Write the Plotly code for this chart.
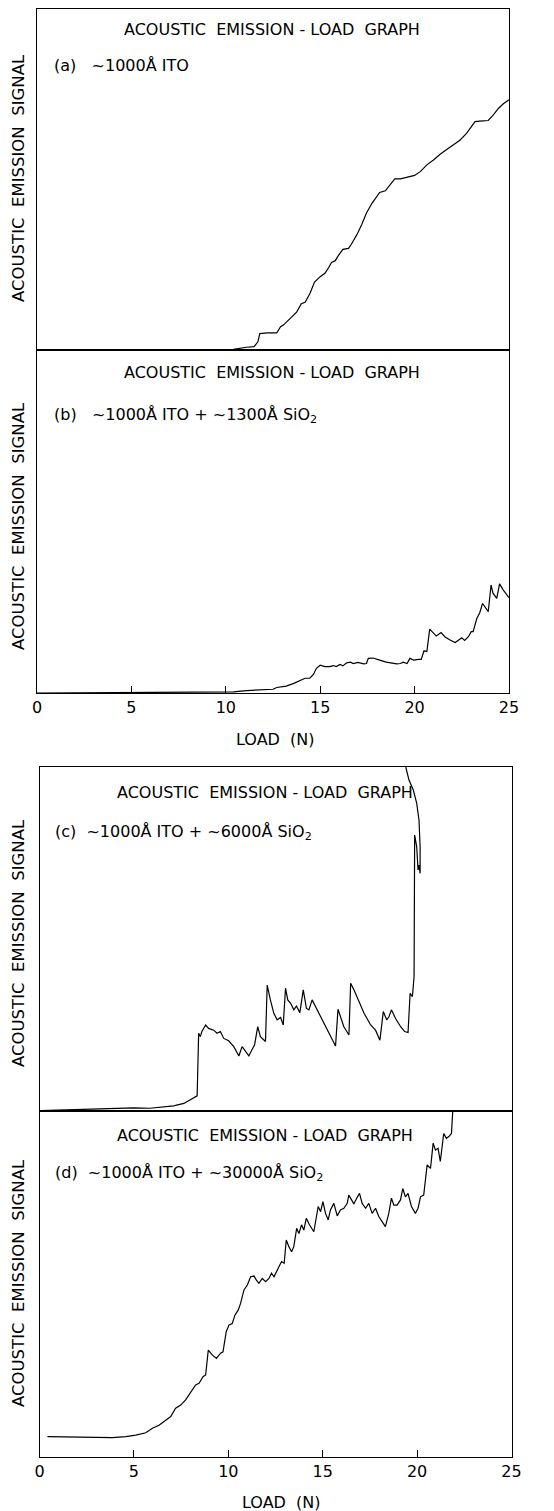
import plotly.graph_objects as go

# page is 554x1511; the html body has an 8px margin, so the figure itself is 546x1503
PAGE_OFF = 8
W, H = 554 - PAGE_OFF, 1511 - PAGE_OFF

# ---------------- data (load in N, signal in arbitrary units 0-100 of panel height) ----------------
load_a = [0, 10.4, 11.1, 11.5, 11.7, 11.8, 12.2, 12.7, 12.9, 13.05, 13.4, 13.75, 14.0, 14.2, 14.45, 14.7,
          15.0, 15.25, 15.45, 15.6, 15.8, 15.95, 16.2, 16.5, 16.65, 16.95, 17.2, 17.45, 17.75, 18.0, 18.15,
          18.45, 18.7, 18.95, 19.25, 19.6, 20.0, 20.3, 20.65, 21.0, 21.35, 21.7, 22.05, 22.4, 22.75, 23.0,
          23.2, 23.45, 23.9, 24.15, 24.45, 24.7, 25.0]
sig_a = [0, 0.2, 0.8, 1.0, 2.4, 4.8, 5.0, 5.0, 6.8, 7.3, 9.2, 11.1, 13.6, 14.0, 16.5, 19.9,
         21.5, 22.5, 24.2, 25.7, 26.2, 27.6, 29.5, 29.8, 31.0, 33.9, 36.8, 40.2, 43.1, 45.2, 46.2,
         46.7, 48.4, 50.2, 50.2, 50.7, 51.2, 52.3, 54.3, 55.7, 57.4, 58.8, 60.1, 61.5, 63.5, 65.6,
         67.0, 67.1, 67.3, 68.8, 70.9, 72.2, 73.4]

load_b = [0, 8.8, 10.05, 10.4, 11.1, 11.8, 12.5, 12.7, 13.2, 13.6, 13.9, 14.2, 14.45, 14.65, 14.8, 15.0,
          15.25, 15.5, 15.7, 15.85, 16.05, 16.2, 16.4, 16.6, 16.75, 17.0, 17.3, 17.45, 17.55, 17.8, 18.15,
          18.5, 19.05, 19.25, 19.4, 19.6, 19.75, 19.95, 20.2, 20.35, 20.5, 20.65, 20.8, 21.0, 21.15, 21.4,
          21.6, 21.85, 22.15, 22.3, 22.5, 22.65, 22.85, 23.0, 23.1, 23.3, 23.45, 23.6, 23.75, 23.9, 24.05,
          24.15, 24.35, 24.5, 24.7, 24.9, 25.0]
sig_b = [0, 0.1, 0.1, 0.3, 0.7, 0.9, 1.1, 1.6, 2.0, 2.8, 3.6, 4.3, 4.3, 5.5, 7.2, 8.1,
         7.7, 7.7, 8.0, 7.7, 8.3, 7.9, 8.8, 9.0, 8.6, 8.9, 8.5, 8.6, 10.1, 10.2, 9.6,
         9.0, 8.5, 8.6, 9.0, 8.6, 10.1, 9.6, 9.8, 9.8, 12.3, 12.1, 18.6, 17.4, 16.6, 17.6,
         16.4, 15.5, 14.7, 15.3, 16.1, 15.3, 16.4, 17.9, 17.9, 21.8, 23.4, 26.1, 25.0, 23.7, 31.5,
         29.1, 27.6, 31.8, 30.0, 28.6, 27.8]

load_c = [0.05, 1.45, 3.2, 5.0, 5.85, 6.4, 7.1, 7.65, 8.0, 8.35, 8.43, 8.52, 8.6, 8.8, 8.96, 9.23,
          9.4, 9.58, 9.76, 10.02, 10.29, 10.56, 10.73, 10.91, 11.09, 11.26, 11.39, 11.56, 11.7, 11.97,
          12.06, 12.23, 12.41, 12.59, 12.77, 12.91, 13.03, 13.15, 13.3, 13.47, 13.61, 13.79, 13.97, 14.14,
          14.27, 14.44, 14.71, 14.98, 15.42, 15.68, 15.81, 16.12, 16.39, 16.48, 16.66, 16.92, 17.19, 17.54,
          17.8, 18.03, 18.21, 18.39, 18.51, 18.64, 18.86, 19.13, 19.34, 19.52, 19.63, 19.75, 19.84, 19.87,
          19.98, 20.05, 20.1, 20.16, 20.16, 20.1, 19.98, 19.8, 19.57, 19.4]
sig_c = [0.1, 0.3, 0.7, 0.9, 0.8, 1.1, 1.5, 2.2, 3.2, 4.4, 22.6, 21.6, 23.1, 25.0, 24.0, 23.5,
         22.6, 23.1, 21.1, 20.4, 18.7, 16.0, 18.7, 17.2, 16.0, 17.9, 19.2, 24.5, 21.6, 20.2,
         36.6, 32.3, 28.4, 26.5, 27.2, 25.0, 35.7, 32.3, 31.3, 29.4, 30.5, 28.6, 35.2, 29.8,
         29.4, 32.3, 29.4, 26.5, 21.6, 18.9, 29.6, 24.5, 22.1, 37.1, 35.2, 31.8, 28.4, 25.0,
         23.5, 20.6, 28.9, 26.5, 27.4, 29.4, 26.9, 24.5, 23.1, 22.8, 34.2, 33.2, 39.1, 80.2,
         76.8, 70.1, 71.5, 69.1, 76.8, 84.6, 89.4, 93.3, 96.2, 100]

load_d = [0.42, 1.39, 2.45, 3.86, 4.57, 5.10, 5.63, 5.98, 6.33, 6.68, 6.95, 7.21, 7.48, 7.74, 8.01, 8.27,
          8.45, 8.66, 8.80, 8.94, 9.15, 9.37, 9.59, 9.72, 9.89, 10.04, 10.21, 10.35, 10.53, 10.65, 10.83,
          11.01, 11.18, 11.36, 11.48, 11.62, 11.80, 11.98, 12.15, 12.29, 12.42, 12.59, 12.72, 12.82, 12.96,
          13.07, 13.21, 13.35, 13.47, 13.62, 13.74, 13.88, 14.00, 14.13, 14.30, 14.53, 14.76, 14.89, 15.01,
          15.15, 15.29, 15.41, 15.59, 15.77, 15.94, 16.12, 16.30, 16.38, 16.53, 16.65, 16.77, 16.95, 17.09,
          17.27, 17.44, 17.62, 17.80, 17.97, 18.32, 18.50, 18.64, 18.77, 18.94, 19.12, 19.24, 19.38, 19.52,
          19.70, 19.91, 20.05, 20.18, 20.35, 20.53, 20.71, 20.85, 20.97, 21.11, 21.23, 21.41, 21.55, 21.68,
          21.82, 21.89]
sig_d = [5.9, 5.8, 5.6, 5.6, 5.9, 6.3, 7.0, 8.3, 9.2, 10.7, 11.7, 14.1, 15.0, 16.5, 18.9, 20.8,
         21.3, 23.2, 23.7, 30.9, 29.5, 28.5, 30.0, 30.4, 36.2, 38.2, 38.6, 41.0, 42.5, 44.4, 48.3,
         49.7, 52.1, 52.3, 51.2, 50.2, 51.6, 50.7, 51.6, 53.1, 52.1, 54.0, 55.0, 56.5, 56.0,
         62.7, 60.8, 59.3, 60.8, 66.1, 64.6, 67.1, 65.6, 69.0, 67.1, 65.1, 72.4, 70.9, 73.8,
         70.4, 68.5, 71.4, 73.3, 69.7, 71.4, 71.9, 73.3, 75.7, 74.3, 73.1, 74.5, 76.2, 73.3,
         71.9, 73.3, 70.4, 71.9, 69.5, 66.6, 70.4, 74.8, 72.8, 72.8, 74.3, 77.6, 75.2, 76.2,
         72.4, 70.4, 71.9, 75.2, 75.7, 84.4, 83.4, 90.7, 88.7, 89.2, 85.4, 93.5, 92.1, 92.6,
         93.5, 100]

x_ticks = [0, 5, 10, 15, 20, 25]
title_text = "ACOUSTIC  EMISSION - LOAD  GRAPH"
ytitle_text = "ACOUSTIC  EMISSION  SIGNAL"
xtitle_text = "LOAD  (N)"
labels = ["(a)   ~1000Å ITO",
          "(b)   ~1000Å ITO + ~1300Å SiO<sub>2</sub>",
          "(c)  ~1000Å ITO + ~6000Å SiO<sub>2</sub>",
          "(d)  ~1000Å ITO + ~30000Å SiO<sub>2</sub>"]

# ---------------- layout helpers (page pixel -> paper fraction) ----------------
def px(xp):
    return (xp - PAGE_OFF) / W

def py(yp):
    return 1 - (yp - PAGE_OFF) / H

FONT = "DejaVu Sans"
panels = [
    # (x-left, x-right, y-top, y-bottom) in page pixels
    (37, 509, 9, 350),
    (37, 509, 350, 693),
    (39.5, 511.5, 767, 1111),
    (39.5, 511.5, 1111, 1457),
]
series = [(load_a, sig_a), (load_b, sig_b), (load_c, sig_c), (load_d, sig_d)]

fig = go.Figure()
layout = dict(width=W, height=H, margin=dict(l=0, r=0, t=0, b=0, autoexpand=False),
              paper_bgcolor="white", plot_bgcolor="white", showlegend=False,
              font=dict(family=FONT, color="black"))

for i, ((xl, xr, yt, yb), (xs, ys)) in enumerate(zip(panels, series)):
    n = "" if i == 0 else str(i + 1)
    fig.add_trace(go.Scatter(x=xs, y=ys, mode="lines", xaxis="x" + n, yaxis="y" + n,
                             line=dict(color="black", width=1.2), hoverinfo="skip"))
    show_ticks = i in (1, 3)
    layout["xaxis" + n] = dict(domain=[px(xl), px(xr)], range=[0, 25], anchor="y" + n,
                               automargin=False,
                               showline=True, mirror=True, linecolor="black", linewidth=1.2,
                               showgrid=False, zeroline=False,
                               ticks="inside" if show_ticks else "", ticklen=7, tickwidth=1.2,
                               tickcolor="black",
                               tickvals=x_ticks, showticklabels=show_ticks,
                               tickfont=dict(size=16, family=FONT, color="black"))
    layout["yaxis" + n] = dict(domain=[py(yb), py(yt)], range=[0, 100], anchor="x" + n,
                               automargin=False,
                               showline=True, mirror=True, linecolor="black", linewidth=1.2,
                               showgrid=False, zeroline=False, ticks="", showticklabels=False)

fig.update_layout(**layout)

ann = []
def text(x, y, s, size=16, xanchor="center", angle=0):
    ann.append(dict(x=px(x), y=py(y), xref="paper", yref="paper", text=s, showarrow=False,
                    xanchor=xanchor, yanchor="middle", textangle=angle, borderpad=0,
                    font=dict(size=size, family=FONT, color="black")))

# panel titles
text(272, 29, title_text)
text(272, 373, title_text)
text(265, 792, title_text)
text(265, 1135, title_text)
# sample labels
text(53, 65, labels[0], xanchor="left")
text(53, 415, labels[1], xanchor="left")
text(54, 832, labels[2], xanchor="left")
text(54, 1173, labels[3], xanchor="left")
# y titles
text(18, 178, ytitle_text, size=16.5, angle=-90)
text(18, 526, ytitle_text, size=16.5, angle=-90)
text(18, 943, ytitle_text, size=16.5, angle=-90)
text(18, 1283, ytitle_text, size=16.5, angle=-90)
# x titles
text(275, 739, xtitle_text)
text(281, 1502, xtitle_text)

fig.update_layout(annotations=ann)
fig.write_html("out.html")
